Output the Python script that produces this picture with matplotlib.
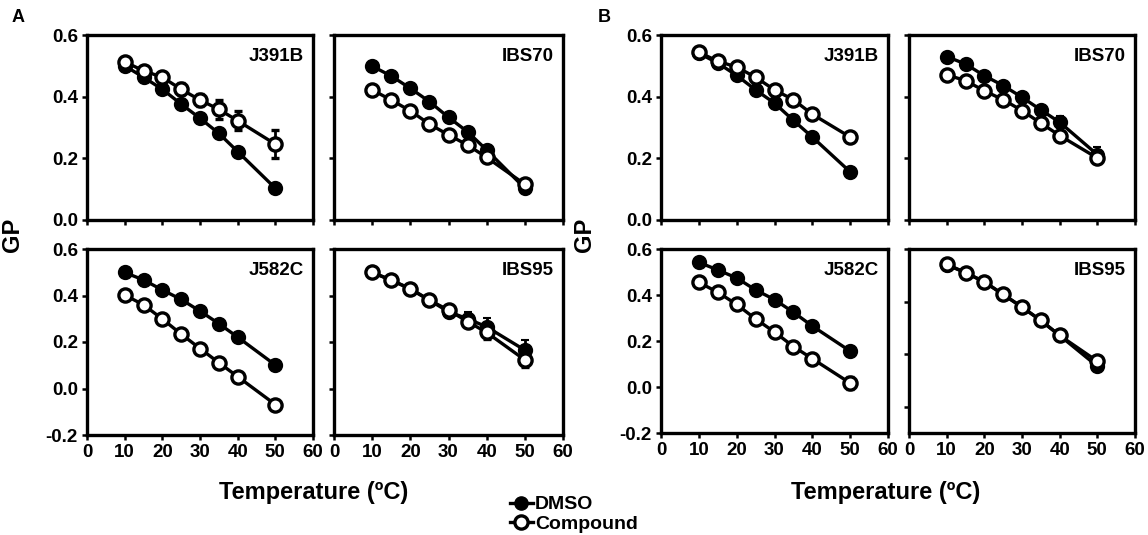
import matplotlib
matplotlib.use("Agg")
import matplotlib.pyplot as plt
from matplotlib.lines import Line2D

plt.rcParams['font.family'] = ['Liberation Sans', 'DejaVu Sans']
plt.rcParams['font.weight'] = 'bold'

temps = [10, 15, 20, 25, 30, 35, 40, 50]

# Panel A
a_j391b_dmso = [0.50, 0.463, 0.424, 0.376, 0.330, 0.281, 0.222, 0.103]
a_j391b_cmpd = [0.513, 0.484, 0.463, 0.424, 0.389, 0.359, 0.322, 0.246]
a_j391b_cmpd_err = [0.0, 0.0, 0.01, 0.02, 0.02, 0.03, 0.03, 0.045]

a_ibs70_dmso = [0.499, 0.467, 0.427, 0.384, 0.333, 0.286, 0.227, 0.103]
a_ibs70_cmpd = [0.422, 0.389, 0.354, 0.311, 0.276, 0.243, 0.203, 0.116]

a_j582c_dmso = [0.499, 0.467, 0.424, 0.383, 0.333, 0.279, 0.221, 0.101]
a_j582c_cmpd = [0.402, 0.360, 0.299, 0.234, 0.172, 0.111, 0.051, -0.069]

a_ibs95_dmso = [0.50, 0.465, 0.43, 0.38, 0.33, 0.30, 0.265, 0.165]
a_ibs95_dmso_err = [0.0, 0.0, 0.0, 0.01, 0.02, 0.03, 0.04, 0.045]
a_ibs95_cmpd = [0.499, 0.467, 0.427, 0.380, 0.337, 0.288, 0.241, 0.123]
a_ibs95_cmpd_err = [0.0, 0.0, 0.0, 0.0, 0.01, 0.02, 0.03, 0.03]

# Panel B
b_j391b_dmso = [0.541, 0.509, 0.469, 0.422, 0.379, 0.323, 0.269, 0.156]
b_j391b_cmpd = [0.544, 0.515, 0.496, 0.463, 0.422, 0.390, 0.343, 0.269]

b_ibs70_dmso = [0.530, 0.506, 0.468, 0.436, 0.398, 0.357, 0.317, 0.212]
b_ibs70_dmso_err = [0.0, 0.0, 0.0, 0.0, 0.0, 0.01, 0.02, 0.025]
b_ibs70_cmpd = [0.471, 0.452, 0.419, 0.390, 0.355, 0.314, 0.274, 0.201]

b_j582c_dmso = [0.542, 0.509, 0.474, 0.422, 0.380, 0.325, 0.265, 0.156]
b_j582c_cmpd = [0.455, 0.412, 0.359, 0.296, 0.239, 0.176, 0.123, 0.017]
b_j582c_cmpd_err = [0.0, 0.0, 0.0, 0.0, 0.0, 0.0, 0.015, 0.025]

b_ibs95_dmso = [0.54, 0.51, 0.475, 0.427, 0.379, 0.328, 0.271, 0.154]
b_ibs95_cmpd = [0.542, 0.510, 0.475, 0.427, 0.379, 0.328, 0.271, 0.173]

W, H = 1148, 535
fig = plt.figure(figsize=(W / 100, H / 100), dpi=100)


def make_ax(left, right, top, bottom):
    return fig.add_axes([left / W, 1 - bottom / H, (right - left) / W, (bottom - top) / H])


def draw(ax, dmso, cmpd, name, ylim, yticks, show_ylab, show_xlab,
         dmso_err=None, cmpd_err=None):
    kw = dict(color='black', lw=2.4, capsize=3, elinewidth=2, capthick=2)
    ax.errorbar(temps, dmso, yerr=dmso_err, marker='o', ms=9.5,
                mfc='black', mec='black', mew=1.5, **kw)
    ax.errorbar(temps, cmpd, yerr=cmpd_err, marker='o', ms=9.5,
                mfc='white', mec='black', mew=2.4, **kw)
    ax.set_xlim(0, 60)
    ax.set_ylim(*ylim)
    ax.set_xticks([0, 10, 20, 30, 40, 50, 60])
    ax.set_yticks(yticks)
    for s in ax.spines.values():
        s.set_linewidth(2.4)
    ax.tick_params(direction='out', length=3.5, width=1.8, labelsize=13.5, pad=3)
    if show_ylab:
        ax.set_yticklabels([f"{v:.1f}" for v in yticks], fontweight='bold')
    else:
        ax.set_yticklabels([])
    if show_xlab:
        ax.set_xticklabels([str(v) for v in [0, 10, 20, 30, 40, 50, 60]], fontweight='bold')
    else:
        ax.set_xticklabels([])
    ax.text(0.96, 0.93, name, transform=ax.transAxes, ha='right', va='top',
            fontsize=13.5, fontweight='bold')


top_ticks = [0.0, 0.2, 0.4, 0.6]
bot_ticks = [-0.2, 0.0, 0.2, 0.4, 0.6]

# A
ax = make_ax(87, 313, 35, 220)
draw(ax, a_j391b_dmso, a_j391b_cmpd, 'J391B', (0, 0.6), top_ticks, True, False,
     cmpd_err=a_j391b_cmpd_err)
ax = make_ax(334, 563, 35, 220)
draw(ax, a_ibs70_dmso, a_ibs70_cmpd, 'IBS70', (0, 0.6), top_ticks, False, False)
ax = make_ax(87, 313, 249, 435)
draw(ax, a_j582c_dmso, a_j582c_cmpd, 'J582C', (-0.2, 0.6), bot_ticks, True, True)
ax = make_ax(334, 563, 249, 435)
draw(ax, a_ibs95_dmso, a_ibs95_cmpd, 'IBS95', (-0.2, 0.6), bot_ticks, False, True,
     dmso_err=a_ibs95_dmso_err, cmpd_err=a_ibs95_cmpd_err)

# B
ax = make_ax(661, 888, 35, 220)
draw(ax, b_j391b_dmso, b_j391b_cmpd, 'J391B', (0, 0.6), top_ticks, True, False)
ax = make_ax(909, 1135, 35, 220)
draw(ax, b_ibs70_dmso, b_ibs70_cmpd, 'IBS70', (0, 0.6), top_ticks, False, False,
     dmso_err=b_ibs70_dmso_err)
ax = make_ax(661, 888, 249, 433)
draw(ax, b_j582c_dmso, b_j582c_cmpd, 'J582C', (-0.2, 0.6), bot_ticks, True, True,
     cmpd_err=b_j582c_cmpd_err)
ax = make_ax(909, 1135, 249, 433)
draw(ax, b_ibs95_dmso, b_ibs95_cmpd, 'IBS95', (-0.1, 0.6), top_ticks, False, True)

# labels
fig.text(12 / W, 1 - 18 / H, 'A', fontsize=13, fontweight='bold', va='center')
fig.text(598 / W, 1 - 18 / H, 'B', fontsize=13, fontweight='bold', va='center')
fig.text(13 / W, 1 - 235 / H, 'GP', fontsize=17, fontweight='bold', rotation=90,
         ha='center', va='center')
fig.text(585 / W, 1 - 235 / H, 'GP', fontsize=17, fontweight='bold', rotation=90,
         ha='center', va='center')
fig.text(314 / W, 1 - 493 / H, 'Temperature (ºC)', fontsize=17, fontweight='bold',
         ha='center', va='center')
fig.text(886 / W, 1 - 493 / H, 'Temperature (ºC)', fontsize=17, fontweight='bold',
         ha='center', va='center')

handles = [
    Line2D([], [], color='black', lw=2.4, marker='o', ms=9.5, mfc='black', mec='black'),
    Line2D([], [], color='black', lw=2.4, marker='o', ms=9.5, mfc='white', mec='black', mew=2.4),
]
fig.legend(handles, ['DMSO', 'Compound'], loc='upper left',
           bbox_to_anchor=(500 / W, 1 - 486 / H), frameon=False,
           handlelength=1.2, handletextpad=0.1, labelspacing=0.1, borderpad=0,
           prop={'weight': 'bold', 'size': 14})

fig.savefig('out.png', dpi=100)
